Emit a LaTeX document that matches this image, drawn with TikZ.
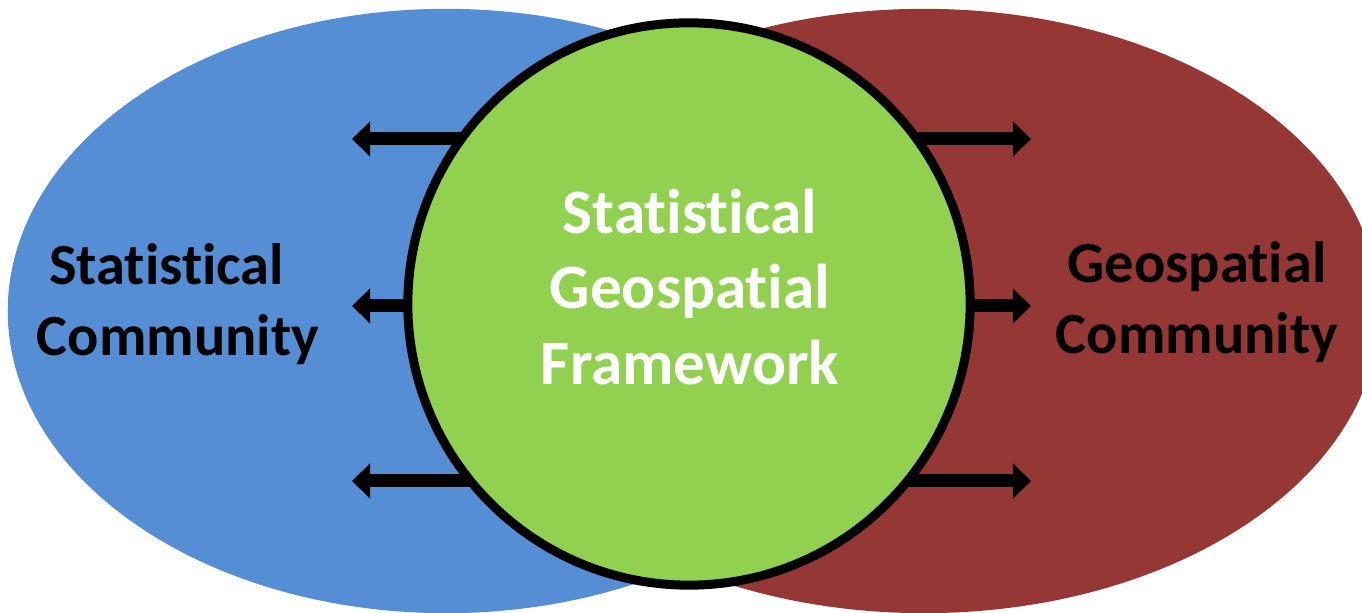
\documentclass[tikz,border=0pt]{standalone}
\usepackage{fontspec}
\setmainfont{Carlito}[Ligatures=NoCommon]
\usetikzlibrary{arrows.meta,shapes.geometric}

\definecolor{statblue}{RGB}{85,142,213}
\definecolor{geored}{RGB}{149,55,53}
\definecolor{frmgreen}{RGB}{146,208,80}

\tikzset{
  community/.style={ellipse, inner sep=0pt, minimum height=6.04cm},
  hub/.style={circle, draw=black, line width=0.09cm, fill=frmgreen,
    inner sep=0pt, minimum size=5.62cm},
  flow/.style={line width=0.13cm, black,
    -{Triangle[length=0.18cm, width=0.34cm]}},
  sidetext/.style={align=center, inner sep=0pt, text=black,
    font=\fontsize{16.6pt}{20.2pt}\selectfont\bfseries},
  hubtext/.style={align=center, inner sep=0pt, text=white,
    font=\fontsize{18pt}{21.6pt}\selectfont\bfseries}
}

\begin{document}
\begin{tikzpicture}[x=0.01cm, y=-0.01cm]
\clip (0,0) rectangle (1362,613);

\node[community, fill=statblue, minimum width=8.76cm] (stat) at (446,311) {};
\node[community, fill=geored, minimum width=9.10cm] (geo) at (924,311) {};

% arrows start under the circle
\coordinate (hubc) at (689,304);
\foreach \y [count=\i] in {139,306,481} {
  \coordinate (lt\i) at (352,\y);
  \coordinate (rt\i) at (1031,\y);
  \draw[flow] (hubc |- lt\i) -- (lt\i);
  \draw[flow] (hubc |- rt\i) -- (rt\i);
}

\node[hub] (hub) at (hubc) {};

\node[sidetext] (statlbl) at (178,304) {Statistical\kern0.23cm\\Community};
\node[sidetext] (geolbl) at (1197,302) {Geospatial\\Community};
\node[hubtext] (hublbl) at (690,287) {Statistical\\Geospatial\\Framework};

\end{tikzpicture}
\end{document}
